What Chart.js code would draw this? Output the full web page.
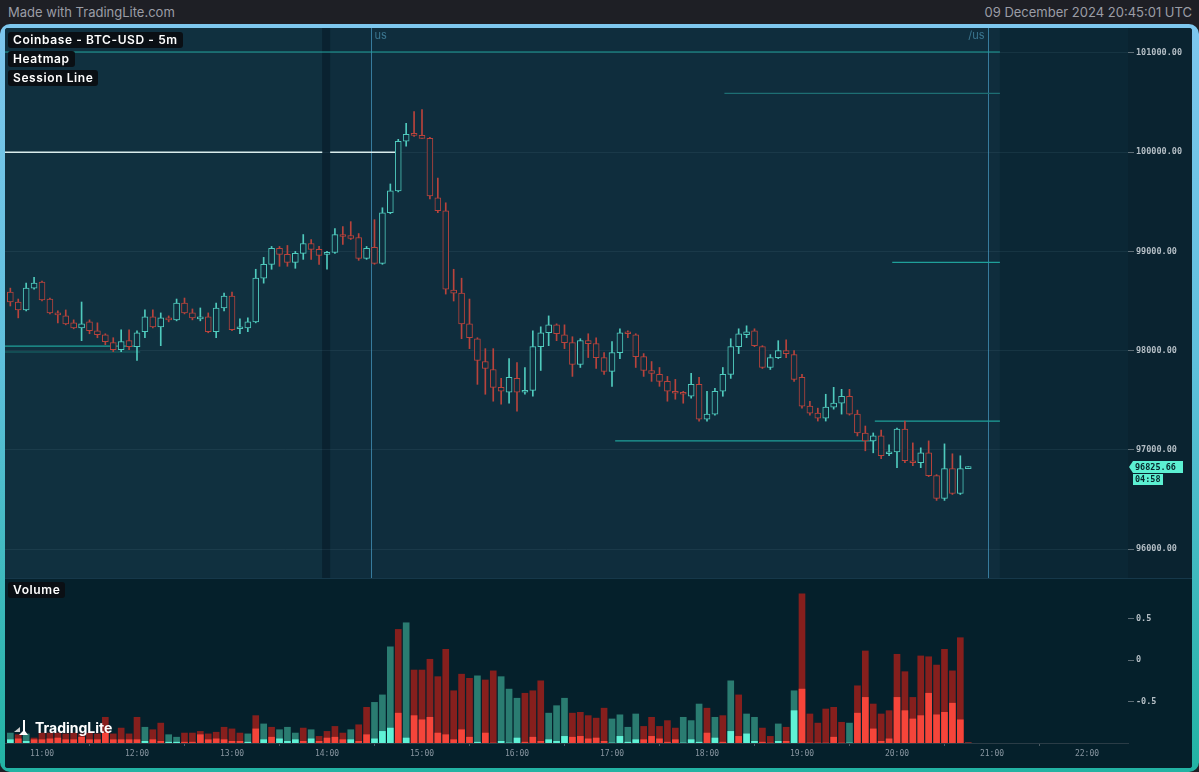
<!DOCTYPE html>
<html>
<head>
<meta charset="utf-8">
<script src="https://cdn.jsdelivr.net/npm/chart.js@4.4.1/dist/chart.umd.min.js"></script>
<style>
  body { margin: 0; background: #1e1f25; width: 1199px; height: 772px; overflow: hidden; font-family: Inter, "Noto Sans", sans-serif; }
  #top { position: absolute; left: 0; top: 0; width: 1199px; height: 24px; color: #9b9da5; font-size: 13px; }
  #top .l { position: absolute; left: 8px; top: 4px; }
  #top .r { position: absolute; right: 7px; top: 4px; }
  #frame { position: absolute; left: 0; top: 24px; width: 1199px; height: 748px; border-radius: 10px;
           background: linear-gradient(#7ec7ee, #5fc0dc 45%, #22b3a3); }
  #inner { position: absolute; left: 5px; top: 4px; width: 1187px; height: 740px; background: #0a2330; overflow: hidden; border-radius: 3px; }
  #main { position: absolute; left: 0; top: 0; }
  #vol { position: absolute; left: 0; top: 550px; }
  .tag { position: absolute; left: 3px; background: #0a0f14; color: #fff; font-size: 12px; font-weight: 600;
         letter-spacing: 0.6px; padding: 0 5px; height: 16px; line-height: 16px; border-radius: 3px; }
  #logo { position: absolute; left: 7px; top: 690px; color: #fff; font-size: 14px; font-weight: 700; display: flex; align-items: center; gap: 3px; }
</style>
</head>
<body>
<div id="top"><span class="l">Made with TradingLite.com</span><span class="r">09 December 2024 20:45:01 UTC</span></div>
<div id="frame">
  <div id="inner">
    <canvas id="main" width="1187" height="550"></canvas>
    <canvas id="vol" width="1187" height="190"></canvas>
    <div class="tag" style="top:4px">Coinbase - BTC-USD - 5m</div>
    <div class="tag" style="top:23px">Heatmap</div>
    <div class="tag" style="top:42px">Session Line</div>
    <div class="tag" style="top:554px">Volume</div>
    <div id="logo">
      <svg width="20" height="18" viewBox="0 0 20 18"><path d="M2 14 L8 9 L8 14 Z" fill="#ccc"/><path d="M11 2 L11 13 L7 17 L16 17 L13 13 L13 2 Z" fill="#fff"/></svg>
      <span>TradingLite</span>
    </div>
  </div>
</div>
<script>
// 5 minute candles starting 10:40
const startMinute = 10 * 60 + 40;
const stepMinutes = 5;

const opens = [98590,98490,98410,98630,98690,98520,98380,98350,98280,98230,98290,98200,98160,98080,98010,98100,98040,98190,98340,98240,
  98330,98310,98480,98380,98320,98340,98190,98430,98550,98220,98230,98290,98730,98870,99030,98970,98890,98980,99080,99020,
  98970,98990,99170,99160,99140,98930,99040,98880,99390,99610,100110,100180,100170,100140,99540,99410,98610,98580,98270,98120,
  97890,97810,97630,97580,97720,97580,97600,98040,98180,98260,98160,98080,97860,98100,98070,97930,97790,97980,98180,98160,
  97940,97800,97760,97690,97590,97580,97540,97660,97310,97360,97590,97760,98040,98160,98200,98040,97830,97930,98000,97960,
  97730,97440,97370,97320,97430,97470,97540,97360,97170,97090,97140,96960,96980,97210,96890,96870,96970,96740,96510,96810,
  96560,96810];
const highs = [98630,98520,98680,98740,98700,98530,98400,98410,98310,98490,98310,98280,98170,98130,98210,98210,98200,98410,98410,98380,
  98350,98520,98530,98420,98430,98380,98480,98580,98590,98320,98330,98820,98940,99050,99050,99060,99000,99170,99120,99050,
  99000,99230,99250,99300,99180,99050,99320,99440,99680,100130,100290,100410,100430,100150,99740,99490,98820,98730,98520,98130,
  98020,98020,97720,97920,97880,97830,98200,98240,98350,98270,98260,98140,98120,98170,98130,97980,98090,98220,98200,98170,
  97970,97890,97830,97740,97710,97590,97770,97730,97590,97620,97830,98120,98220,98250,98220,98050,97960,98100,98110,98000,
  97760,97490,97420,97560,97630,97610,97610,97400,97240,97170,97200,97050,97220,97290,97070,97020,97090,96750,97060,96960,
  96940,96830];
const lows = [98450,98330,98400,98620,98500,98370,98280,98260,98220,98100,98170,98130,98060,97990,97990,98010,97900,98130,98230,98050,
  98290,98300,98370,98310,98300,98180,98130,98400,98200,98170,98190,98280,98680,98820,98850,98850,98830,98920,98920,98870,
  98820,98980,99070,99120,98910,98920,98870,98870,99380,99600,100060,100160,100140,99530,99390,98570,98500,98120,98020,97660,
  97560,97490,97460,97470,97390,97560,97540,97800,98050,98100,98020,97740,97830,97930,97820,97760,97640,97920,98130,97830,
  97740,97690,97640,97490,97510,97470,97520,97290,97290,97350,97540,97720,97970,98130,98040,97820,97810,97920,97930,97690,
  97420,97350,97290,97290,97410,97360,97350,97140,96990,96970,96910,96940,96820,96870,96840,96820,96730,96490,96490,96550,
  96550,96810];
const closes = [98490,98410,98630,98680,98510,98380,98360,98270,98230,98270,98200,98160,98090,98010,98090,98040,98180,98340,98240,98330,
  98310,98480,98380,98330,98340,98190,98430,98550,98210,98240,98290,98730,98870,99030,98970,98890,98980,99080,99020,98960,
  98990,99170,99150,99130,98930,99030,98880,99390,99610,100110,100180,100170,100140,99560,99410,98620,98580,98270,98130,97900,
  97820,97630,97590,97730,97580,97600,98040,98180,98260,98170,98080,97860,98100,98070,97930,97790,97980,98180,98170,97940,
  97800,97770,97690,97590,97570,97560,97660,97310,97360,97590,97760,98040,98170,98190,98050,97830,97930,98000,97970,97710,
  97440,97370,97320,97430,97470,97540,97360,97170,97090,97140,96940,96980,97210,96890,96870,96970,96740,96510,96810,96560,
  96810,96825.66];

// volume pane, in the pane's own axis units (height above the -1 base)
const volTotal = [0.12,0.10,0.11,0.06,0.12,0.12,0.12,0.11,0.12,0.11,0.12,0.11,0.31,0.11,0.18,0.11,0.31,0.19,0.16,0.24,
  0.10,0.07,0.12,0.12,0.14,0.11,0.13,0.19,0.17,0.12,0.11,0.33,0.23,0.19,0.16,0.19,0.12,0.18,0.16,0.08,
  0.14,0.20,0.12,0.16,0.22,0.43,0.49,0.58,1.16,1.37,1.45,0.88,0.88,1.01,0.80,1.13,0.63,0.83,0.78,0.81,
  0.76,0.87,0.80,0.65,0.54,0.60,0.63,0.75,0.36,0.45,0.54,0.36,0.37,0.33,0.30,0.42,0.29,0.34,0.19,0.35,
  0.20,0.31,0.20,0.27,0.18,0.31,0.27,0.47,0.42,0.31,0.33,0.75,0.58,0.35,0.31,0.18,0.08,0.23,0.19,0.63,
  1.80,0.35,0.24,0.41,0.43,0.25,0.24,0.69,1.11,0.47,0.35,0.39,1.07,0.86,0.55,1.05,1.04,0.94,1.13,0.87,
  1.27,0];
const volInner = [0.04,0.05,0.02,0.04,0.04,0.05,0.06,0.04,0.04,0.07,0.04,0.04,0.12,0.04,0.04,0.04,0.04,0.02,0.04,0.02,
  0.01,0.01,0.01,0.01,0.10,0.04,0.05,0.04,0.02,0.02,0.01,0.17,0.04,0.07,0.05,0.02,0.04,0.02,0.05,0.02,
  0.06,0.07,0.04,0.04,0.02,0.10,0.05,0.14,0.18,0.36,0.06,0.33,0.28,0.31,0.12,0.10,0.04,0.16,0.07,0.01,
  0.12,0,0.02,0,0.06,0.01,0.07,0.02,0.04,0.02,0.08,0.07,0.08,0.05,0.06,0.02,0,0.08,0.01,0.04,
  0.04,0.08,0.05,0.01,0.04,0,0.04,0.01,0.12,0.06,0.01,0.14,0.08,0.11,0.02,0.01,0,0.02,0.02,0.39,
  0.65,0,0,0,0.07,0,0,0.36,0.55,0.17,0.02,0.05,0.55,0.39,0.29,0.33,0.60,0.34,0.37,0.48,
  0.28,0];
const volSide = 'bsbssssssssssssssbssbbssssssssbsbsbbbsbsss' +
  'sbssbbbsbssssssssbssbbbsssbbbsssssbbbbssss' +
  'sbbbsbsbsbbssbsbssssssbsssssssssssssssss';

// heatmap levels seen on the price pane
const levelPrices = [101010, 100000, 100000, 100594, 98890, 97290, 97090, 98046, 97986];
const levelFrom   = ['10:36', '10:36', '14:02', '18:11', '19:57', '19:46', '17:02', '10:36', '10:36'];
const levelTo     = ['21:05', '13:57', '14:43', '21:05', '21:05', '21:05', '19:46', '12:02', '12:02'];

const priceTicks = [96000, 97000, 98000, 99000, 100000, 101000];
const volTicks = [-0.5, 0, 0.5];
const timeTicks = ['11:00','12:00','13:00','14:00','15:00','16:00','17:00','18:00','19:00','20:00','21:00','22:00'];
const sessions = [{ t: '14:30', label: 'us', side: 'right' }, { t: '21:00', label: '/us', side: 'left' }];
const lastPrice = 96825.66;
const countdown = '04:58';

const toMin = s => { const [h, m] = s.split(':').map(Number); return h * 60 + m; };
const fmt = v => String(Math.floor(v / 60)).padStart(2, '0') + ':' + String(Math.round(v % 60)).padStart(2, '0');
const times = opens.map((_, i) => startMinute + i * stepMinutes);

const X_MIN = 636.63, X_MAX = 1345.9;
const heatEnd = toMin('21:05'), gapFrom = toMin('13:57'), gapTo = toMin('14:02');

const BULL = '#4fcabd', BEAR = '#b8433c';
const PANE = '#0f2d3d';
const axisFont = { family: 'DejaVu Sans Mono', size: 8.5, weight: 'bold' };

const bgPlugin = {
  id: 'bg',
  beforeDraw(chart) {
    const { ctx, chartArea: a, scales: { x } } = chart;
    ctx.save();
    ctx.fillStyle = '#0a2330';
    ctx.fillRect(0, 0, chart.width, chart.height);
    ctx.fillStyle = '#0b2735';
    ctx.fillRect(a.left, a.top, a.right - a.left, a.bottom - a.top);
    const hx = x.getPixelForValue(heatEnd);
    const g1 = x.getPixelForValue(gapFrom), g2 = x.getPixelForValue(gapTo);
    ctx.fillStyle = '#10303f';
    ctx.fillRect(a.left, a.top, g1 - a.left, a.bottom - a.top);
    ctx.fillStyle = '#0a2230';
    ctx.fillRect(g1, a.top, g2 - g1, a.bottom - a.top);
    ctx.fillStyle = PANE;
    ctx.fillRect(g2, a.top, hx - g2, a.bottom - a.top);
    ctx.restore();
  },
  beforeDatasetsDraw(chart) {
    const { ctx, chartArea: a, scales: { x } } = chart;
    ctx.save();
    ctx.strokeStyle = 'rgba(70,150,190,0.75)';
    ctx.lineWidth = 1;
    ctx.fillStyle = '#3b7690';
    ctx.font = '11px Inter, sans-serif';
    ctx.textBaseline = 'top';
    sessions.forEach(s => {
      const px = Math.round(x.getPixelForValue(toMin(s.t) - stepMinutes / 2)) + 0.5;
      ctx.beginPath(); ctx.moveTo(px, a.top); ctx.lineTo(px, a.bottom); ctx.stroke();
      ctx.textAlign = s.side === 'right' ? 'left' : 'right';
      ctx.fillText(s.label, s.side === 'right' ? px + 3 : px - 4, a.top + 2);
    });
    ctx.restore();
  },
  afterDraw(chart) {
    const { ctx, chartArea: a, scales: { y } } = chart;
    const py = Math.round(y.getPixelForValue(lastPrice));
    const left = a.right + 5;
    ctx.save();
    ctx.fillStyle = '#5cf0d2';
    ctx.beginPath();
    ctx.moveTo(a.right + 1, py);
    ctx.lineTo(left, py - 6);
    ctx.lineTo(left + 50, py - 6);
    ctx.lineTo(left + 50, py + 6);
    ctx.lineTo(left, py + 6);
    ctx.closePath();
    ctx.fill();
    ctx.fillRect(left, py + 7, 30, 11);
    ctx.fillStyle = '#08262c';
    ctx.font = 'bold 8.5px "DejaVu Sans Mono"';
    ctx.textBaseline = 'middle';
    ctx.textAlign = 'left';
    ctx.fillText(lastPrice.toFixed(2), left + 2, py + 0.5);
    ctx.fillText(countdown, left + 2, py + 13);
    ctx.restore();
  }
};

// fixed axis width and no label overhang padding, so panes line up with the picture
const fixY = s => { s.width = 64; s.paddingTop = 0; s.paddingBottom = 0; };
const fixX = s => { s.height = 25; s.paddingLeft = 0; s.paddingRight = 0; };

new Chart(document.getElementById('main'), {
  type: 'bar',
  data: {
    datasets: [
      {
        label: 'body',
        data: times.map((t, i) => ({ x: t, y: [opens[i], closes[i]] })),
        backgroundColor: PANE,
        borderColor: c => closes[c.dataIndex] >= opens[c.dataIndex] ? BULL : BEAR,
        borderWidth: 1,
        borderSkipped: false,
        barThickness: 6,
        minBarLength: 2,
        grouped: false
      },
      {
        label: 'wick',
        data: times.map((t, i) => ({ x: t, y: [lows[i], highs[i]] })),
        backgroundColor: c => closes[c.dataIndex] >= opens[c.dataIndex] ? BULL : BEAR,
        borderWidth: 0,
        barThickness: 1,
        grouped: false
      },
      ...levelPrices.map((p, i) => ({
        type: 'line',
        data: [{ x: toMin(levelFrom[i]), y: p }, { x: toMin(levelTo[i]), y: p }],
        borderColor: i === 1 || i === 2 ? '#d9ecec' : (i === 3 ? '#1d6e73' : (i === 8 ? '#176a6a' : '#1fa09a')),
        borderWidth: i === 1 || i === 2 ? 1.5 : 1.2,
        pointRadius: 0
      }))
    ]
  },
  options: {
    animation: false,
    responsive: false,
    layout: { padding: 0 },
    plugins: { legend: { display: false }, tooltip: { enabled: false } },
    scales: {
      x: { type: 'linear', min: X_MIN, max: X_MAX, offset: false, display: false },
      y: {
        position: 'right', min: 95708, max: 101252,
        afterFit: fixY,
        afterBuildTicks: s => { s.ticks = priceTicks.map(v => ({ value: v })); },
        ticks: { color: '#b4bec5', font: axisFont, padding: 2, callback: v => v.toFixed(2), crossAlign: 'near' },
        grid: { color: 'rgba(130,170,190,0.10)', tickColor: '#5d6d76', tickLength: 6 },
        border: { display: false }
      }
    }
  },
  plugins: [bgPlugin]
});

const volPlugin = {
  id: 'volbg',
  beforeDraw(chart) {
    const { ctx } = chart;
    ctx.save();
    ctx.fillStyle = '#05202b';
    ctx.fillRect(0, 0, chart.width, chart.height);
    ctx.fillStyle = '#16384a';
    ctx.fillRect(0, 0, chart.width, 1);
    ctx.restore();
  }
};

const sideColor = (i, bright) => volSide[i] === 'b' ? (bright ? '#5ff2d6' : '#2a7c71') : (bright ? '#f5453a' : '#861f1d');

new Chart(document.getElementById('vol'), {
  type: 'bar',
  data: {
    datasets: [
      {
        label: 'inner',
        data: times.map((t, i) => ({ x: t, y: [-1, -1 + volInner[i]] })),
        backgroundColor: c => sideColor(c.dataIndex, true),
        barThickness: 6,
        grouped: false
      },
      {
        label: 'total',
        data: times.map((t, i) => ({ x: t, y: [-1, -1 + volTotal[i]] })),
        backgroundColor: c => sideColor(c.dataIndex, false),
        barThickness: 6,
        grouped: false
      }
    ]
  },
  options: {
    animation: false,
    responsive: false,
    layout: { padding: 0 },
    plugins: { legend: { display: false }, tooltip: { enabled: false } },
    scales: {
      x: {
        type: 'linear', min: X_MIN, max: X_MAX, offset: false,
        afterFit: fixX,
        afterBuildTicks: s => { s.ticks = timeTicks.map(t => ({ value: toMin(t) })); },
        ticks: { color: '#8795a0', font: { family: 'DejaVu Sans Mono', size: 8 }, padding: 3, maxRotation: 0, callback: v => fmt(v) },
        grid: { drawOnChartArea: false, tickColor: '#4c5b64', tickLength: 3 },
        border: { color: '#2a3c46' }
      },
      y: {
        position: 'right', min: -1, max: 0.99,
        afterFit: fixY,
        afterBuildTicks: s => { s.ticks = volTicks.map(v => ({ value: v })); },
        ticks: { color: '#b4bec5', font: axisFont, padding: 2, crossAlign: 'near', callback: v => String(v) },
        grid: { drawOnChartArea: false, tickColor: '#5d6d76', tickLength: 6 },
        border: { display: false }
      }
    }
  },
  plugins: [volPlugin]
});
</script>
</body>
</html>
